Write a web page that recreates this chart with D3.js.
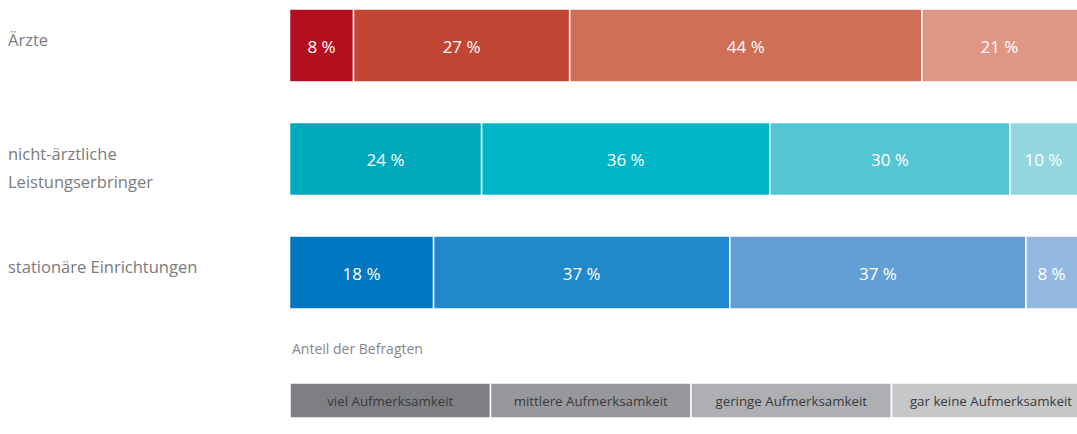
<!DOCTYPE html>
<html>
<head>
<meta charset="utf-8">
<script src="https://cdn.jsdelivr.net/npm/d3@7"></script>
<style>
  body { margin: 0; background: #fff; }
  text { font-family: "Open Sans", sans-serif; }
</style>
</head>
<body>
<div id="chart"></div>
<script>
const categories = ["Ärzte", "nicht-ärztliche Leistungserbringer", "stationäre Einrichtungen"];
const categoryLines = [["Ärzte"], ["nicht-ärztliche", "Leistungserbringer"], ["stationäre Einrichtungen"]];
const levels = ["viel Aufmerksamkeit", "mittlere Aufmerksamkeit", "geringe Aufmerksamkeit", "gar keine Aufmerksamkeit"];
const viel = [8, 24, 18];
const mittlere = [27, 36, 37];
const geringe = [44, 30, 37];
const garKeine = [21, 10, 8];
const axisTitle = "Anteil der Befragten";

const palette = [
  ["#b40f1e", "#c34635", "#cf6f58", "#e09684"],
  ["#00a8bb", "#00b7c9", "#55c5d3", "#93d6e0"],
  ["#0077c0", "#2088cb", "#629fd4", "#94b9e1"]
];
const legendColors = ["#7e7f82", "#97989b", "#aeafb2", "#c6c7c9"];

const width = 1077, height = 434;
const data = categories.map((c, i) => ({
  category: c,
  [levels[0]]: viel[i],
  [levels[1]]: mittlere[i],
  [levels[2]]: geringe[i],
  [levels[3]]: garKeine[i]
}));

const svg = d3.select("#chart").append("svg")
  .attr("width", width)
  .attr("height", height);

const x = d3.scaleLinear().domain([0, 100]).range([289.5, 1090]);
const y = d3.scaleBand()
  .domain(categories)
  .range([9, 309])
  .paddingInner(0.357);

const stacked = d3.stack().keys(levels)(data);

const layers = svg.append("g").selectAll("g")
  .data(stacked)
  .join("g");

layers.selectAll("rect")
  .data((s, li) => s.map((d, ri) => ({ d, li, ri })))
  .join("rect")
  .attr("x", (p) => x(p.d[0]))
  .attr("y", (p) => y(p.d.data.category))
  .attr("width", (p) => x(p.d[1]) - x(p.d[0]))
  .attr("height", y.bandwidth())
  .attr("fill", (p) => palette[p.ri][p.li])
  .attr("stroke", "#fff")
  .attr("stroke-width", 1.5);

layers.selectAll("text")
  .data((s) => s)
  .join("text")
  .attr("x", (d) => (Math.min(x(d[1]), width) + x(d[0])) / 2)
  .attr("y", (d) => y(d.data.category) + y.bandwidth() / 2 + 1)
  .attr("dy", "0.36em")
  .attr("text-anchor", "middle")
  .attr("fill", "#fff")
  .style("font-size", "17px")
  .text((d) => `${d[1] - d[0]} %`);

// category labels on the left
svg.append("g").selectAll("text")
  .data(categories)
  .join("text")
  .attr("x", 8)
  .attr("y", (c) => y(c) + 37)
  .attr("fill", "#7a7b7d")
  .style("font-size", "16.5px")
  .each(function (c, i) {
    d3.select(this).selectAll("tspan")
      .data(categoryLines[i])
      .join("tspan")
      .attr("x", 8)
      .attr("dy", (l, j) => (j === 0 ? 0 : 28))
      .text((l) => l);
  });

// axis title
svg.append("text")
  .attr("x", 292)
  .attr("y", 354)
  .attr("fill", "#86878a")
  .style("font-size", "14px")
  .text(axisTitle);

// legend
const legendX = d3.scaleBand().domain(levels).range([290, 1092]);
const legend = svg.append("g").selectAll("g")
  .data(levels)
  .join("g");

legend.append("rect")
  .attr("x", (l) => legendX(l))
  .attr("y", 383)
  .attr("width", legendX.bandwidth())
  .attr("height", 35)
  .attr("fill", (l, i) => legendColors[i])
  .attr("stroke", "#fff")
  .attr("stroke-width", 1.5);

legend.append("text")
  .attr("x", (l) => Math.min(legendX(l) + legendX.bandwidth() / 2, 991))
  .attr("y", 401)
  .attr("dy", "0.36em")
  .attr("text-anchor", "middle")
  .attr("fill", "#3a3a3c")
  .style("font-size", "13.3px")
  .text((l) => l);
</script>
</body>
</html>
